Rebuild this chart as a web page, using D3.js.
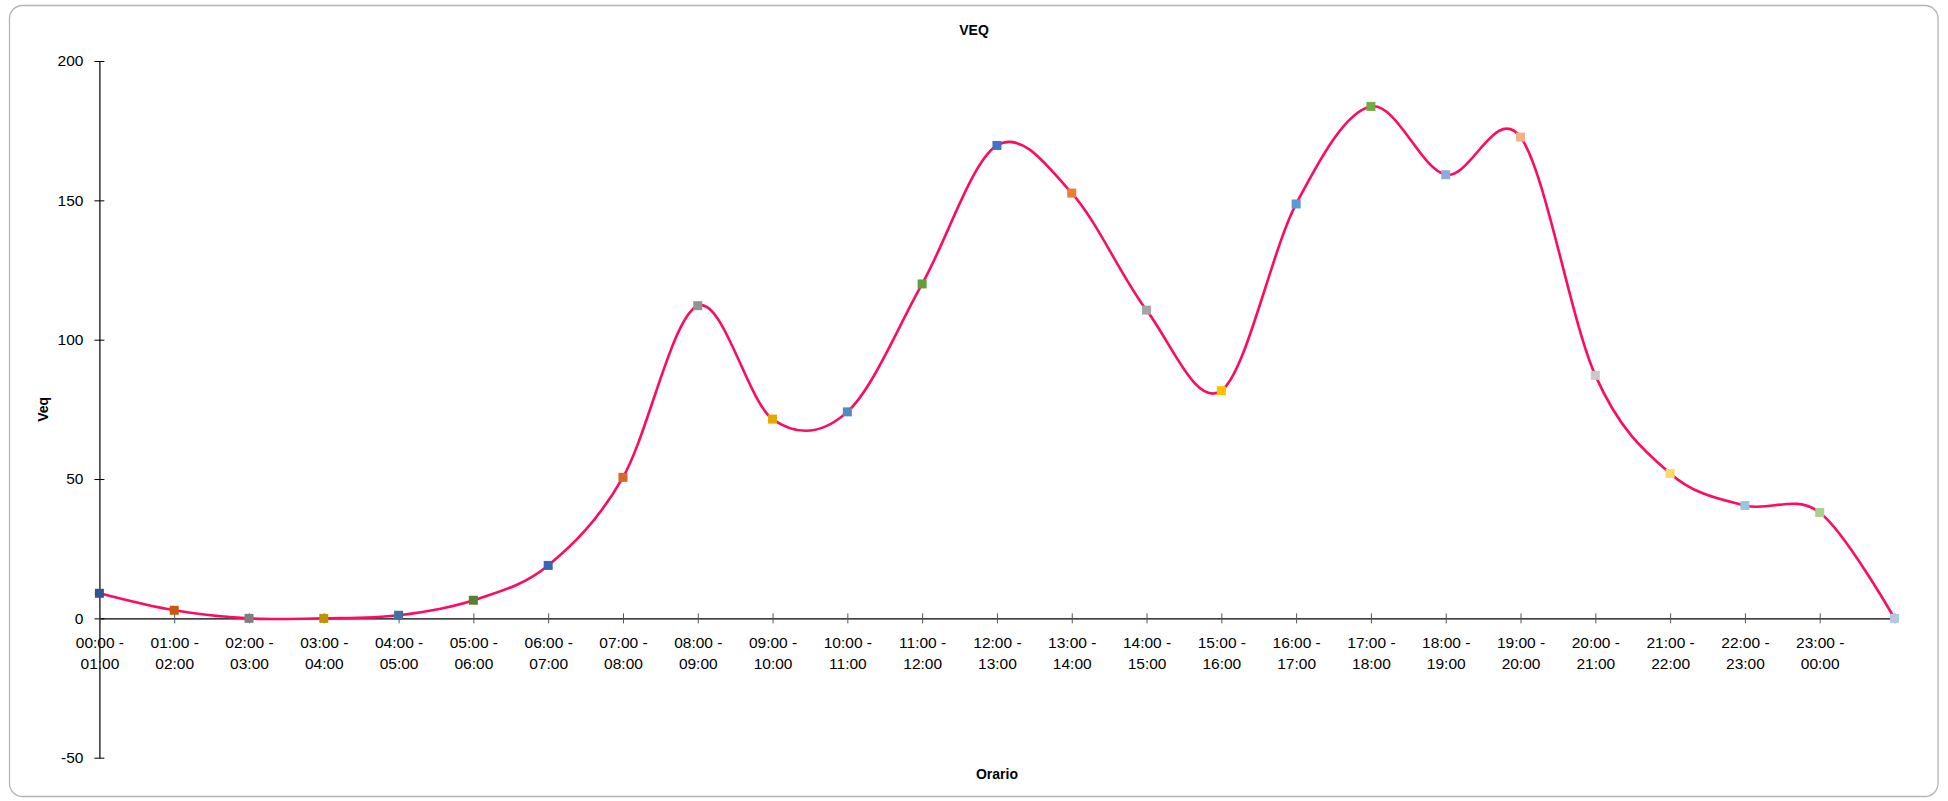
<!DOCTYPE html>
<html>
<head>
<meta charset="utf-8">
<script src="https://cdn.jsdelivr.net/npm/d3@7"></script>
<style>
  html, body { margin: 0; padding: 0; background: #ffffff; }
  svg { display: block; }
  text { font-family: "Liberation Sans", Arial, sans-serif; fill: #000; }
</style>
</head>
<body>
<svg id="chart" width="1948" height="801"></svg>
<script>
// ---- data ----
const categories = [
  "00:00 -|01:00", "01:00 -|02:00", "02:00 -|03:00", "03:00 -|04:00",
  "04:00 -|05:00", "05:00 -|06:00", "06:00 -|07:00", "07:00 -|08:00",
  "08:00 -|09:00", "09:00 -|10:00", "10:00 -|11:00", "11:00 -|12:00",
  "12:00 -|13:00", "13:00 -|14:00", "14:00 -|15:00", "15:00 -|16:00",
  "16:00 -|17:00", "17:00 -|18:00", "18:00 -|19:00", "19:00 -|20:00",
  "20:00 -|21:00", "21:00 -|22:00", "22:00 -|23:00", "23:00 -|00:00",
  ""
];
const veqValues = [
  9.0, 2.9, 0, 0, 1.1, 6.5, 19.0, 50.6, 112.2, 71.5, 74.1, 120.0,
  169.7, 152.6, 110.6, 81.7, 148.7, 183.7, 159.2, 172.7, 87.2, 52.0, 40.5, 38.0,
  0
];
const yTicks = [-50, 0, 50, 100, 150, 200];
const yTickLabels = ["-50", "0", "50", "100", "150", "200"];
const markerColors = [
  "#2f5597", "#c55a11", "#7f7f7f", "#bf9000", "#41719c", "#548235",
  "#3a64b4", "#d46b28", "#939393", "#e2a900", "#508abf", "#62a03e",
  "#4472c4", "#ed7d31", "#a5a5a5", "#ffc000", "#5b9bd5", "#70ad47",
  "#8faadc", "#f4b183", "#c9c9c9", "#ffd966", "#9dc3e6", "#a9d18e",
  "#b4c7e7"
];
const chartTitle = "VEQ";
const xTitle = "Orario";
const yTitle = "Veq";

// ---- layout ----
const svg = d3.select("#chart");
const plot = { left: 99.4, right: 1894.5, top: 61, bottom: 757.7 };

svg.append("rect")
  .attr("x", 9.5).attr("y", 5.5)
  .attr("width", 1928.5).attr("height", 791)
  .attr("rx", 13).attr("ry", 13)
  .attr("fill", "#fff")
  .attr("stroke", "#b4b4b4")
  .attr("stroke-width", 1.3);

const x = d3.scalePoint()
  .domain(d3.range(categories.length))
  .range([plot.left, plot.right]);

const y = d3.scaleLinear()
  .domain([-50, 200])
  .range([plot.bottom, plot.top]);

// y axis
const yAxis = d3.axisLeft(y)
  .tickValues(yTicks)
  .tickFormat((d, i) => yTickLabels[i])
  .tickSize(0).tickPadding(0);
const yG = svg.append("g").attr("transform", `translate(${plot.left},0)`).call(yAxis);
yG.select(".domain").attr("stroke", "#000").attr("stroke-width", 1.2);
yG.selectAll(".tick text")
  .attr("x", -16)
  .attr("font-size", 15.5)
  .attr("font-family", "Liberation Sans, Arial, sans-serif")
  .attr("fill", "#000");
yG.selectAll(".tick").append("line")
  .attr("x1", -5).attr("x2", 5)
  .attr("stroke", "#000").attr("stroke-width", 1);

// x axis at y = 0
const xAxis = d3.axisBottom(x).tickSize(0).tickFormat(() => "");
const xG = svg.append("g").attr("transform", `translate(0,${y(0)})`).call(xAxis);
xG.select(".domain").attr("stroke", "#000").attr("stroke-width", 1.2);
xG.selectAll(".tick").append("line")
  .attr("y1", -5).attr("y2", 5)
  .attr("stroke", "#555").attr("stroke-width", 1);
xG.selectAll(".tick text").remove();
xG.selectAll(".tick").each(function(d) {
  const parts = categories[d].split("|");
  const t = d3.select(this).append("text")
    .attr("text-anchor", "middle")
    .attr("font-size", 15.5)
    .attr("fill", "#000");
  parts.forEach((p, i) => {
    if (p === "") return;
    t.append("tspan").attr("x", 0).attr("y", 29.5 + i * 21).text(p);
  });
});

// line
const line = d3.line()
  .x((d, i) => x(i))
  .y(d => y(d))
  .curve(d3.curveCardinal.tension(0));

svg.append("path")
  .datum(veqValues)
  .attr("d", line)
  .attr("fill", "none")
  .attr("stroke", "#ff0a62")
  .attr("stroke-width", 2.6);

// markers
const ms = 9;
svg.append("g").selectAll("rect")
  .data(veqValues)
  .join("rect")
  .attr("x", (d, i) => x(i) - ms / 2)
  .attr("y", d => y(d) - ms / 2)
  .attr("width", ms).attr("height", ms)
  .attr("fill", (d, i) => markerColors[i]);

// titles
svg.append("text")
  .attr("x", 974).attr("y", 35)
  .attr("text-anchor", "middle")
  .attr("font-size", 14).attr("font-weight", "bold")
  .text(chartTitle);

svg.append("text")
  .attr("x", (plot.left + plot.right) / 2).attr("y", 779)
  .attr("text-anchor", "middle")
  .attr("font-size", 14).attr("font-weight", "bold")
  .text(xTitle);

svg.append("text")
  .attr("transform", `translate(48,${(plot.top + plot.bottom) / 2}) rotate(-90)`)
  .attr("text-anchor", "middle")
  .attr("font-size", 14).attr("font-weight", "bold")
  .text(yTitle);
</script>
</body>
</html>
